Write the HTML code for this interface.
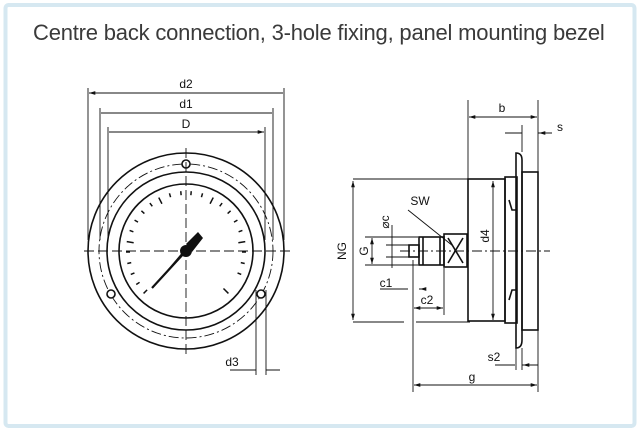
<!DOCTYPE html>
<html><head><meta charset="utf-8"><style>
body{margin:0;background:#fff}
.w{position:relative;width:640px;height:431px;overflow:hidden;background:#fff}
.t{position:absolute;left:33px;top:20px;font:22px "Liberation Sans",sans-serif;color:#3a3a3a;letter-spacing:-0.2px}
svg{position:absolute;left:0;top:0}
</style></head><body><div class="w">
<svg width="640" height="431" viewBox="0 0 640 431">
<defs><marker id="a" viewBox="0 0 10 10" refX="10" refY="5" markerWidth="7" markerHeight="7" orient="auto-start-reverse"><path d="M0,2 L10,5 L0,8z" fill="#111"/></marker></defs>
<rect x="5.5" y="5" width="629" height="421" rx="3" fill="none" stroke="#d6e8f1" stroke-width="4"/>
<g fill="none" stroke="#111" stroke-width="1.6">
<circle cx="186" cy="251" r="98"/>
<circle cx="186" cy="251" r="87" stroke-dasharray="10 3 2 3" stroke-width="0.9"/>
<circle cx="186" cy="251" r="79"/>
<circle cx="186" cy="251" r="67"/>
<circle cx="186" cy="164" r="4" fill="#fff"/>
<circle cx="111" cy="294" r="4" fill="#fff"/>
<circle cx="261" cy="294" r="4" fill="#fff"/>
<path d="M84 251H292M186 148V354" stroke-dasharray="10 4" stroke-width="0.9"/>
<g stroke-width="0.9">
<path d="M88 240V88M284 240V88M100 240V108M273 240V108M108 240V127M265 240V127"/>
<path d="M89 93H283M101 113H272M109 132H264" marker-start="url(#a)" marker-end="url(#a)"/>
<path d="M256 290V375M266 290V375"/>
<path d="M230 370H256M266 370H280"/>
</g>
<path d="M186 251L152 288" stroke-width="2.2"/>
<g stroke-width="0.9">
<path d="M353 179H470M353 322H404M416 322H470"/>
<path d="M353 181V320" marker-start="url(#a)" marker-end="url(#a)"/>
<path d="M468 100V179M538 100V172M522 125V152"/>
<path d="M469 117H537" marker-start="url(#a)" marker-end="url(#a)"/>
<path d="M505 133H522M538 133H552" />
<path d="M515 133H521M545 133H539" marker-end="url(#a)"/>
<path d="M413 260V392M538 330V392M516 348V370M522 348V370"/>
<path d="M414 385H537" marker-start="url(#a)" marker-end="url(#a)"/>
<path d="M495 365H515M522 365H538"/>
<path d="M508 365H515M530 365H523" marker-end="url(#a)"/>
<path d="M493 181V320" marker-start="url(#a)" marker-end="url(#a)"/>
<path d="M365 237H418M365 265H418M386 245H409M386 257H409M392 225V268"/>
<path d="M372 238V264" marker-start="url(#a)" marker-end="url(#a)"/>
<path d="M380 289H407M419 289H424" />
<path d="M400 289H408M425 289H420" marker-end="url(#a)"/>
<path d="M444 268V315"/>
<path d="M414 308H443" marker-start="url(#a)" marker-end="url(#a)"/>
<path d="M408 210L453 246"/>
<path d="M400 251H550" stroke-dasharray="10 3 2 3"/>
</g>
<rect x="468" y="179" width="37" height="142"/>
<rect x="505" y="177" width="12" height="146"/>
<path d="M516 153Q522 153 522 160V340Q522 348 516 348Z"/>
<rect x="522" y="172" width="16" height="158"/>
<path d="M509 200l3 10h5M509 300l3 -10h5"/>
<rect x="444" y="234" width="23" height="33"/>
<path d="M448 238L463 263M463 238L448 263"/>
<rect x="419" y="237" width="25" height="28"/>
<path d="M423 237V265M440 237V265"/>
<rect x="409" y="245" width="10" height="12"/>
</g>
<path d="M152 288L185 249L190 247Z" fill="#111"/>
<circle cx="186" cy="251" r="6" fill="#111"/>
<path d="M186 244L198 232L203 238L192 252Z" fill="#111"/>
<g stroke="#111" stroke-width="1.5" transform="translate(186 251)">
<g id="tk">
<path d="M0 -60v5" transform="rotate(-135)"/><path d="M0 -60v4" transform="rotate(-124)"/><path d="M0 -60v4" transform="rotate(-113)"/><path d="M0 -60v4" transform="rotate(-102)"/><path d="M0 -60v4" transform="rotate(-91)"/>
<path d="M0 -60v7" transform="rotate(-81)"/><path d="M0 -60v4" transform="rotate(-70)"/><path d="M0 -60v4" transform="rotate(-59)"/><path d="M0 -60v4" transform="rotate(-48)"/><path d="M0 -60v4" transform="rotate(-37)"/>
<path d="M0 -60v7" transform="rotate(-27)"/><path d="M0 -60v4" transform="rotate(-16)"/><path d="M0 -60v4" transform="rotate(-5)"/><path d="M0 -60v4" transform="rotate(5)"/><path d="M0 -60v4" transform="rotate(16)"/>
<path d="M0 -60v7" transform="rotate(27)"/><path d="M0 -60v4" transform="rotate(37)"/><path d="M0 -60v4" transform="rotate(48)"/><path d="M0 -60v4" transform="rotate(59)"/><path d="M0 -60v4" transform="rotate(70)"/>
<path d="M0 -60v7" transform="rotate(81)"/><path d="M0 -60v4" transform="rotate(91)"/><path d="M0 -60v4" transform="rotate(102)"/><path d="M0 -60v4" transform="rotate(113)"/><path d="M0 -60v7" transform="rotate(135)"/>
</g></g>
<g font-family="Liberation Sans,sans-serif" font-size="12" fill="#111" text-anchor="middle">
<text x="186" y="88">d2</text><text x="186" y="108">d1</text><text x="186" y="128">D</text>
<text x="232" y="366">d3</text>
<text x="502" y="112">b</text><text x="560" y="131">s</text>
<text x="472" y="381">g</text><text x="494" y="361">s2</text>
<text x="420" y="205">SW</text>
<text x="386" y="287">c1</text><text x="427" y="304">c2</text>
<text transform="translate(346 251) rotate(-90)">NG</text>
<text transform="translate(368 251) rotate(-90)">G</text>
<text transform="translate(389 222) rotate(-90)">⌀c</text>
<text transform="translate(489 236) rotate(-90)">d4</text>
</g>
</svg>
<div class="t">Centre back connection, 3-hole fixing, panel mounting bezel</div>
</div></body></html>
